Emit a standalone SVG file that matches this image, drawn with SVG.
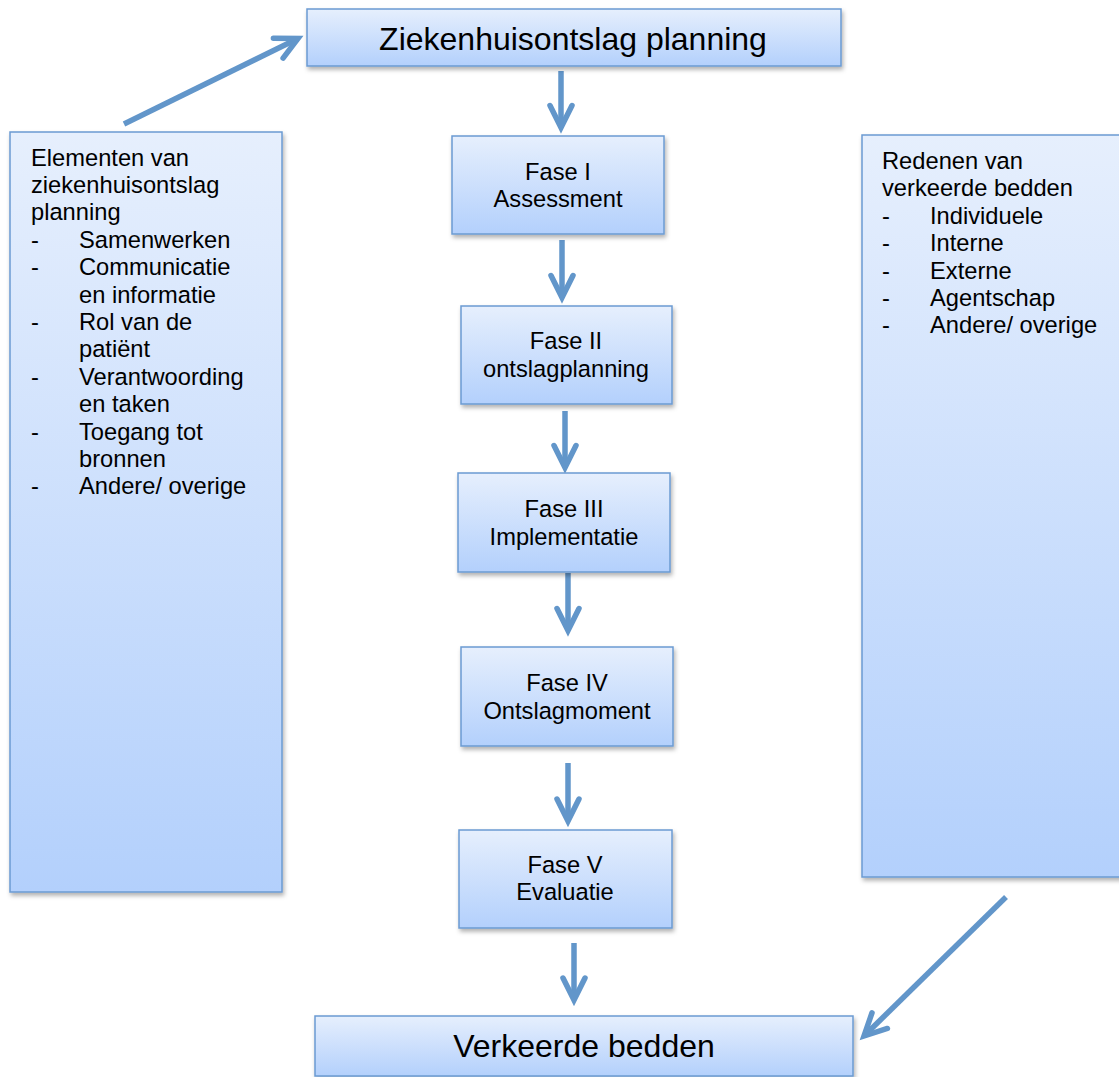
<svg xmlns="http://www.w3.org/2000/svg" width="1119" height="1077" viewBox="0 0 1119 1077">
  <defs>
    <linearGradient id="boxFill" x1="0" y1="0" x2="0" y2="1">
      <stop offset="0" stop-color="#e6effd"/>
      <stop offset="1" stop-color="#b3d0fc"/>
    </linearGradient>
    <filter id="shadow" x="-10%" y="-10%" width="120%" height="130%">
      <feDropShadow dx="1.5" dy="3" stdDeviation="2" flood-color="#000" flood-opacity="0.3"/>
    </filter>
    <marker id="head" markerUnits="strokeWidth" orient="auto" refX="0" refY="0" markerWidth="10" markerHeight="10" overflow="visible">
      <path d="M-4,-2 L0,0 L-4,2" fill="none" stroke="#6296ca" stroke-width="1" stroke-linecap="round" stroke-linejoin="miter"/>
    </marker>
  </defs>
  <style>
    .box { fill: url(#boxFill); stroke: #6b9bd2; stroke-width: 1.5; filter: url(#shadow); }
    .big { font-family: "Liberation Sans", Arial, sans-serif; font-size: 32px; fill: #000; text-anchor: middle; }
    .txt { font-family: "Liberation Sans", Arial, sans-serif; font-size: 23.7px; fill: #000; }
    .mid { text-anchor: middle; }
    .conn { stroke: #6296ca; stroke-width: 5.5; fill: none; marker-end: url(#head); }
  </style>

  <g id="connectors">
    <line class="conn" x1="124" y1="124" x2="298" y2="38.5"/>
    <line class="conn" x1="561" y1="71" x2="561" y2="127.5"/>
    <line class="conn" x1="562" y1="240" x2="562" y2="297.5"/>
    <line class="conn" x1="565" y1="411" x2="565" y2="467.5"/>
    <line class="conn" x1="568" y1="573" x2="568" y2="630.5"/>
    <line class="conn" x1="568" y1="763" x2="568" y2="821"/>
    <line class="conn" x1="574" y1="943" x2="574" y2="1000"/>
    <line class="conn" x1="1006" y1="897" x2="864" y2="1036"/>
  </g>

  <g id="node-top">
    <rect class="box" x="307" y="9" width="534" height="57"/>
    <text class="big" x="573" y="50">Ziekenhuisontslag planning</text>
  </g>

  <g id="node-elementen">
    <rect class="box" x="10" y="132" width="272" height="760"/>
    <text class="txt">
      <tspan x="31" y="165.5">Elementen van</tspan>
      <tspan x="31" y="192.9">ziekenhuisontslag</tspan>
      <tspan x="31" y="220.3">planning</tspan>
      <tspan x="31" y="247.7">-</tspan><tspan x="79" y="247.7">Samenwerken</tspan>
      <tspan x="31" y="275.1">-</tspan><tspan x="79" y="275.1">Communicatie</tspan>
      <tspan x="79" y="302.5">en informatie</tspan>
      <tspan x="31" y="329.9">-</tspan><tspan x="79" y="329.9">Rol van de</tspan>
      <tspan x="79" y="357.3">patiënt</tspan>
      <tspan x="31" y="384.7">-</tspan><tspan x="79" y="384.7">Verantwoording</tspan>
      <tspan x="79" y="412.1">en taken</tspan>
      <tspan x="31" y="439.5">-</tspan><tspan x="79" y="439.5">Toegang tot</tspan>
      <tspan x="79" y="466.9">bronnen</tspan>
      <tspan x="31" y="494.3">-</tspan><tspan x="79" y="494.3">Andere/ overige</tspan>
    </text>
  </g>

  <g id="node-redenen">
    <rect class="box" x="862" y="135" width="275" height="742"/>
    <text class="txt">
      <tspan x="882" y="169">Redenen van</tspan>
      <tspan x="882" y="196.4">verkeerde bedden</tspan>
      <tspan x="882" y="223.8">-</tspan><tspan x="930" y="223.8">Individuele</tspan>
      <tspan x="882" y="251.2">-</tspan><tspan x="930" y="251.2">Interne</tspan>
      <tspan x="882" y="278.6">-</tspan><tspan x="930" y="278.6">Externe</tspan>
      <tspan x="882" y="306">-</tspan><tspan x="930" y="306">Agentschap</tspan>
      <tspan x="882" y="333.4">-</tspan><tspan x="930" y="333.4">Andere/ overige</tspan>
    </text>
  </g>

  <g id="node-fase1">
    <rect class="box" x="452" y="136" width="212" height="98"/>
    <text class="txt mid" x="558" y="180">Fase I</text>
    <text class="txt mid" x="558" y="207">Assessment</text>
  </g>

  <g id="node-fase2">
    <rect class="box" x="461" y="306" width="211" height="98"/>
    <text class="txt mid" x="566" y="349">Fase II</text>
    <text class="txt mid" x="566" y="377">ontslagplanning</text>
  </g>

  <g id="node-fase3">
    <rect class="box" x="458" y="473" width="212" height="99"/>
    <text class="txt mid" x="564" y="517">Fase III</text>
    <text class="txt mid" x="564" y="545">Implementatie</text>
  </g>

  <g id="node-fase4">
    <rect class="box" x="461" y="647" width="212" height="99"/>
    <text class="txt mid" x="567" y="691">Fase IV</text>
    <text class="txt mid" x="567" y="719">Ontslagmoment</text>
  </g>

  <g id="node-fase5">
    <rect class="box" x="459" y="830" width="213" height="98"/>
    <text class="txt mid" x="565" y="873">Fase V</text>
    <text class="txt mid" x="565" y="900">Evaluatie</text>
  </g>

  <g id="node-bottom">
    <rect class="box" x="315" y="1016" width="538" height="60"/>
    <text class="big" x="584" y="1057">Verkeerde bedden</text>
  </g>
</svg>
